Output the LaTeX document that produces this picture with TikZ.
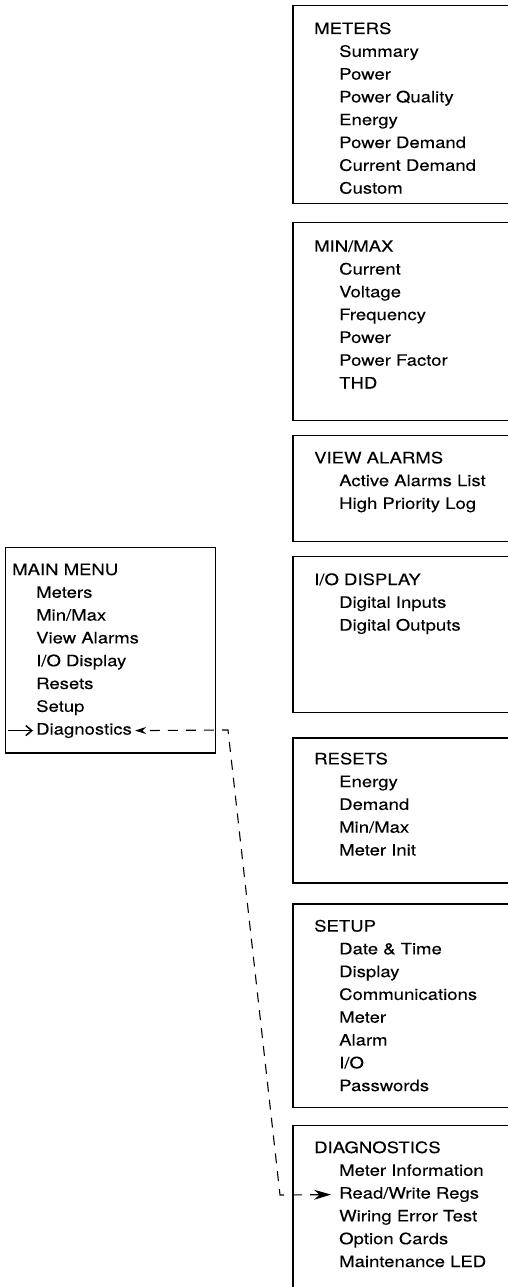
\documentclass[tikz,border=0pt]{standalone}
\usepackage{fontspec}
\setmainfont{TeX Gyre Heros}[FakeStretch=1.18,FakeBold=0.12]
\usetikzlibrary{arrows.meta,positioning,calc}

\begin{document}
\begin{tikzpicture}[x=1pt, y=-1pt,
    menubox/.style={draw, line width=1.2pt, anchor=north west, inner sep=0pt},
    title/.style={anchor=base west, inner sep=0pt, font=\fontsize{15.7}{19}\selectfont},
    item/.style={title},
    dashline/.style={dash pattern=on 10pt off 8pt, line width=1.1pt},
    >=Stealth
]
\useasboundingbox (0,0) rectangle (508,1287);
\clip (0,0) rectangle (508,1287);

% --- Main menu ---
\node[menubox, minimum width=210pt, minimum height=205.3pt] (mainbox) at (5,547) {};
\node[title] (mtitle) at (12,575) {MAIN MENU};
\node[item] (mmeters) at (36,597.8) {Meters};
\node[item] (mminmax) at (36,620.6) {Min/Max};
\node[item] (malarms) at (36,643.4) {View Alarms};
\node[item] (mio) at (36,666.2) {I/O Display};
\node[item] (mresets) at (36,689) {Resets};
\node[item] (msetup) at (36,711.8) {Setup};
\node[item] (mdiag) at (36,734.6) {Diagnostics};

% --- Meters ---
\node[menubox, minimum width=230pt, minimum height=198pt] (meters) at (292.3,5) {};
\node[title] (mettitle) at (314,34) {METERS};
\node[item] (metsum) at (339,56.8) {Summary};
\node[item] (metpow) at (339,79.6) {Power};
\node[item] (metpq) at (339,102.4) {Power Quality};
\node[item] (meten) at (339,125.2) {Energy};
\node[item] (metpd) at (339,148) {Power Demand};
\node[item] (metcd) at (339,170.8) {Current Demand};
\node[item] (metcus) at (339,193.6) {Custom};

% --- Min/Max ---
\node[menubox, minimum width=230pt, minimum height=198.3pt] (minmax) at (292.3,221.7) {};
\node[title] (mmtitle) at (314,251.7) {MIN/MAX};
\node[item] (mmcur) at (339,274.5) {Current};
\node[item] (mmvolt) at (339,297.3) {Voltage};
\node[item] (mmfreq) at (339,320.1) {Frequency};
\node[item] (mmpow) at (339,342.9) {Power};
\node[item] (mmpf) at (339,365.7) {Power Factor};
\node[item] (mmthd) at (339,388.5) {THD};

% --- View alarms ---
\node[menubox, minimum width=230pt, minimum height=105.7pt] (alarms) at (292.3,435) {};
\node[title] (altitle) at (314,463.3) {VIEW ALARMS};
\node[item] (alact) at (339,486.1) {Active Alarms List};
\node[item] (alhigh) at (339,508.9) {High Priority Log};

% --- I/O display ---
\node[menubox, minimum width=230pt, minimum height=155.7pt] (iodisp) at (292.3,556) {};
\node[title] (iotitle) at (314,585) {I/O DISPLAY};
\node[item] (iodin) at (339,607.8) {Digital Inputs};
\node[item] (iodout) at (339,630.6) {Digital Outputs};

% --- Resets ---
\node[menubox, minimum width=230pt, minimum height=145pt] (resets) at (292.3,737.3) {};
\node[title] (rstitle) at (314,764.3) {RESETS};
\node[item] (rsen) at (339,787.1) {Energy};
\node[item] (rsdem) at (339,809.9) {Demand};
\node[item] (rsmm) at (339,832.7) {Min/Max};
\node[item] (rsinit) at (339,855.5) {Meter Init};

% --- Setup ---
\node[menubox, minimum width=230pt, minimum height=203.7pt] (setup) at (292.3,903.3) {};
\node[title] (sutitle) at (314,931.5) {SETUP};
\node[item] (sudate) at (339,954.3) {Date \& Time};
\node[item] (sudisp) at (339,977.1) {Display};
\node[item] (sucomm) at (339,999.9) {Communications};
\node[item] (sumet) at (339,1022.7) {Meter};
\node[item] (sualarm) at (339,1045.5) {Alarm};
\node[item] (suio) at (339,1068.3) {I/O};
\node[item] (supass) at (339,1091.1) {Passwords};

% --- Diagnostics ---
\node[menubox, minimum width=230pt, minimum height=180pt] (diag) at (292.3,1125) {};
\node[title] (dgtitle) at (314,1153) {DIAGNOSTICS};
\node[item] (dginfo) at (339,1175.8) {Meter Information};
\node[item] (dgregs) at (339,1198.6) {Read/Write Regs};
\node[item] (dgwire) at (339,1221.4) {Wiring Error Test};
\node[item] (dgopt) at (339,1244.2) {Option Cards};
\node[item] (dgled) at (339,1267) {Maintenance LED};

% Cursor and link
\draw[-{Straight Barb[length=6pt,width=10pt]}, line width=1.5pt]
    ([xshift=-28pt]mdiag.west) -- ([xshift=-3pt]mdiag.west);
\coordinate (bendtop) at (228,730);
\coordinate (bendbot) at (280,1195);
\draw[dashline, {Stealth[length=17pt,width=10pt]}-{Stealth[length=11pt,width=7pt]}]
    ([xshift=-8pt]dgregs.west) -- (bendbot) -- (bendtop) -- ([xshift=3pt]mdiag.east);

\end{tikzpicture}
\end{document}
